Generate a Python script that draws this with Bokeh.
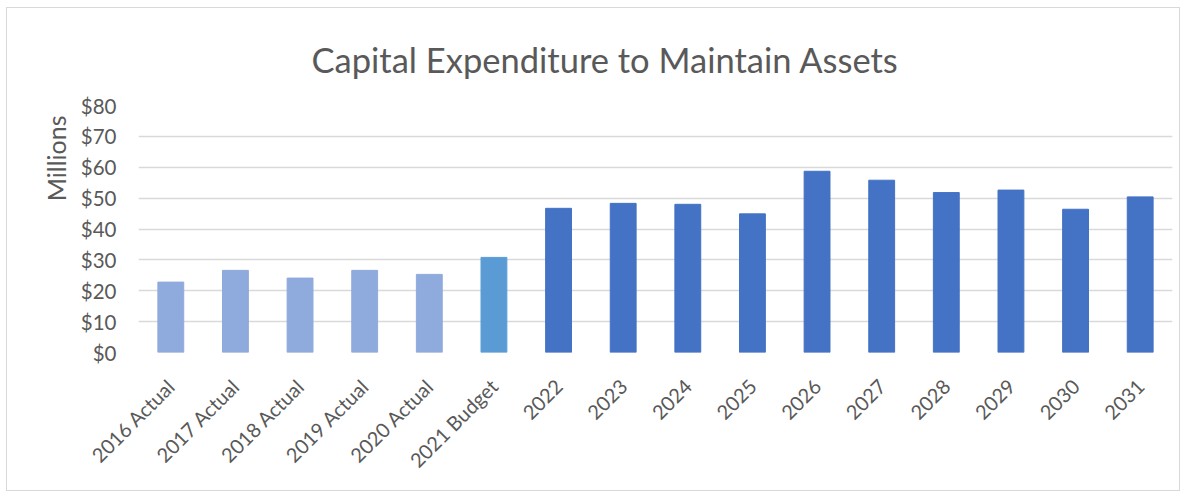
from math import pi
from bokeh.plotting import figure
from bokeh.models import (ColumnDataSource, FactorRange, Range1d, PrintfTickFormatter,
                          FixedTicker, Title)
from bokeh.embed import file_html
from bokeh.resources import INLINE

categories = ["2016 Actual", "2017 Actual", "2018 Actual", "2019 Actual", "2020 Actual",
              "2021 Budget", "2022", "2023", "2024", "2025", "2026", "2027", "2028",
              "2029", "2030", "2031"]
values = [22.8, 26.6, 24.1, 26.6, 25.3, 30.8, 46.7, 48.3, 48.0, 44.9, 58.7, 55.8, 51.8,
          52.6, 46.4, 50.4]
kinds = ["Actual"] * 5 + ["Budget"] + ["Forecast"] * 10
kind_colors = {"Actual": "#8FAADC", "Budget": "#5B9BD5", "Forecast": "#4472C4"}
y_ticks = [0, 10, 20, 30, 40, 50, 60, 70, 80]

FONT = "Lato"
GREY = "#595959"

src = ColumnDataSource(dict(cat=categories, val=values,
                            color=[kind_colors[k] for k in kinds]))

p = figure(x_range=FactorRange(*categories), y_range=Range1d(0, 80),
           width=1174, height=484, output_backend="svg", toolbar_location=None,
           min_border_left=131, min_border_right=9, min_border_top=97, min_border_bottom=140,
           title="Capital Expenditure to Maintain Assets")

p.vbar(x="cat", top="val", width=0.4, color="color", source=src)

p.title.align = "left"
p.title.text_font = FONT
p.title.text_font_size = "34.5px"
p.title.text_font_style = "normal"
p.title.text_color = GREY
p.title.standoff = 52
p.title.offset = 173

p.yaxis.ticker = FixedTicker(ticks=y_ticks)
p.yaxis.formatter = PrintfTickFormatter(format="$%d")

for ax in (p.xaxis, p.yaxis):
    ax.axis_line_color = None
    ax.major_tick_line_color = None
    ax.minor_tick_line_color = None
    ax.major_label_text_font = FONT
    ax.major_label_text_font_size = "20px"
    ax.major_label_text_color = GREY

p.yaxis.major_label_text_font_size = "20.5px"
p.yaxis.major_label_standoff = 16
p.xaxis.major_label_orientation = pi / 4
p.xaxis.major_label_standoff = 24

# vertical axis title, set towards the top of the value axis
p.add_layout(Title(text="Millions", align="right", offset=10, standoff=14,
                   text_font=FONT, text_font_size="25px", text_font_style="normal",
                   text_color=GREY), "left")

p.xgrid.grid_line_color = None
p.ygrid.grid_line_color = "#D9D9D9"
p.ygrid.grid_line_width = 1.5
p.outline_line_color = None
p.styles = {"border": "1px solid #D9D9D9", "margin-left": "6px", "margin-top": "7px"}

open("out.html", "w").write(file_html(p, INLINE))
